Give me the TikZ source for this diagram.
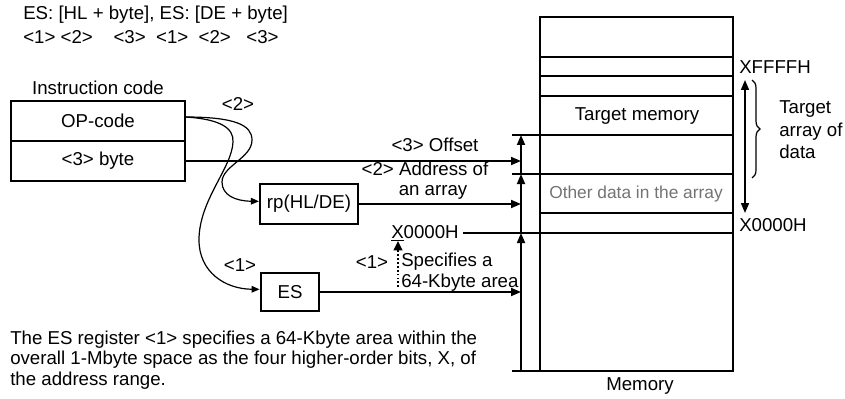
\documentclass[tikz,border=0pt]{standalone}
\usepackage{fontspec}
\setmainfont{Liberation Sans}
\usetikzlibrary{arrows.meta,decorations.pathreplacing}
\begin{document}
\begin{tikzpicture}[x=0.75pt,y=-0.75pt,
  font=\fontsize{14}{16.8}\selectfont,
  txt/.style={inner sep=0pt},
  thickbox/.style={draw,line width=1.7pt,inner sep=0pt},
  conn/.style={line width=1.3pt,-{Triangle[length=7.5pt,width=6pt]}},
  curve/.style={line width=0.9pt,-{Triangle[length=6pt,width=5pt]}},
  memline/.style={line width=1pt}]
\useasboundingbox (0,0) rectangle (845,399);
% top text
\node[txt,anchor=west] (t1) at (23,15) {ES: [HL + byte], ES: [DE + byte]};
\node[txt,anchor=west] (t2) at (23,37) {<1>\ <2>\ \ \ \ <3>\ \ <1>\ \ <2>\ \ \ <3>};
% instruction code
\node[txt] (ic) at (98,88) {Instruction code};
\node[thickbox,minimum width=130.5pt,minimum height=30pt] (op) at (98,121) {OP-code};
\node[thickbox,minimum width=130.5pt,minimum height=30pt] (byte) at (98,161) {<3> byte};
\node[thickbox,minimum width=73.5pt,minimum height=30pt] (rp) at (309,204) {rp(HL/DE)};
\node[thickbox,minimum width=44pt,minimum height=28pt] (es) at (290,292) {ES};
% labels
\node[txt] (l2) at (238,104) {<2>};
\node[txt] (l1) at (240,265) {<1>};
\node[txt] (off) at (435,145) {<3> Offset};
\node[txt] (addr) at (425,169) {<2> Address of};
\node[txt] (arr) at (433,192) {an array};
\node[txt] (xl) at (425,233) {\underline{X}0000H};
\node[txt] (l1b) at (372,262) {<1>};
\node[txt,anchor=west] (spec) at (401,262) {Specifies a};
\node[txt,anchor=west] (spec2) at (401,283) {64-Kbyte area};
\coordinate (dbot) at (398,287);
\coordinate (dtop) at (398,241);
\draw[line width=1.3pt,dash pattern=on 1.3pt off 1.6pt,-{Triangle[length=7pt,width=6.5pt]}] (dbot) -- (dtop);
% memory
\coordinate (mtl) at (540,17);
\coordinate (mbr) at (733,371);
\foreach \yy in {57,76,96,213}{\draw[memline] (540,\yy) -- (733,\yy);}
\coordinate (h1) at (512,135);
\coordinate (h2) at (512,174);
\coordinate (h4) at (512,371);
\draw[memline] (h1) -- (733,135);
\draw[memline] (h2) -- (733,174);
\draw[memline] (xl.east) ++(4,0) -- (733,233);
\draw[memline] (h4) -- (540,371);
\draw[line width=1.8pt] (mtl) rectangle (mbr);
\node[txt] (tm) at (637,116) {Target memory};
\node[txt,text=black!55,font=\fontsize{13}{15}\selectfont] (od) at (636,194) {Other data in the array};
\node[txt] (mem) at (640,386) {Memory};
% vertical bar
\coordinate (b0) at (521,371);
\coordinate (b1) at (521,233);
\coordinate (b2) at (521,174);
\coordinate (b3) at (521,135);
\draw[conn] (b0) -- (b1);
\draw[conn] (b1) -- (b2);
\draw[conn] (b2) -- (b3);
% horizontal arrows
\draw[conn] (byte.east) -- (byte.east -| b1);
\draw[conn] (rp.east) -- (rp.east -| b1);
\draw[conn] (es.east) -- (es.east -| b1);
% curves
\coordinate (opout) at (185,117);
\draw[curve] (opout) .. controls (235,117) and (252,125) .. (252,140)
  .. controls (252,158) and (222,166) .. (222,182)
  .. controls (222,195) and (235,201) .. ([yshift=2pt]rp.west);
\draw[curve] (opout) .. controls (220,119) and (234,128) .. (233,142)
  .. controls (232,168) and (199,200) .. (199,240)
  .. controls (199,272) and (225,289) .. ([yshift=2pt]es.west);
% right side
\node[txt,anchor=west] (xf) at (739,67) {XFFFFH};
\node[txt,anchor=west] (x0) at (739,225) {X0000H};
\coordinate (ra) at (745,80);
\coordinate (rb) at (745,213);
\draw[line width=1.3pt,{Triangle[length=7.5pt,width=6pt]}-{Triangle[length=7.5pt,width=6pt]}] (ra) -- (rb);
\coordinate (ba) at (752,80);
\coordinate (bb) at (752,178);
\draw[line width=0.9pt,decorate,decoration={brace,amplitude=6pt}] (ba) -- (bb);
\node[txt,align=left,anchor=west,font=\fontsize{14}{16.9}\selectfont] (tad) at (779,130) {Target\\array of\\data};
% bottom paragraph
\node[txt,align=left,anchor=west,font=\fontsize{14}{15.4}\selectfont] (para) at (10,360)
  {The ES register <1> specifies a 64-Kbyte area within the\\overall 1-Mbyte space as the four higher-order bits, X, of\\the address range.};
\end{tikzpicture}
\end{document}
